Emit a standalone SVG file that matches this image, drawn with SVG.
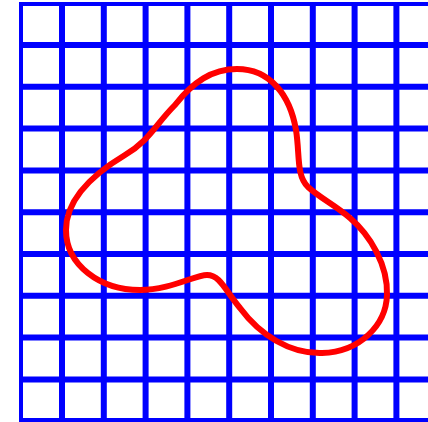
<svg xmlns="http://www.w3.org/2000/svg" width="428" height="422" viewBox="0 0 428 422">
<style>
.g{stroke:#0000ff;stroke-width:6;fill:none}
.e{fill:#0000ff}
.c{stroke:#ff0000;stroke-width:6;fill:none;stroke-linejoin:round}
</style>
<rect width="428" height="422" fill="#ffffff"/>
<g id="grid">
<rect class="e" x="19" y="2" width="409" height="4"/>
<rect class="e" x="19" y="418" width="409" height="4"/>
<rect class="e" x="19" y="2" width="4" height="420"/>
<path class="g" d="M62 2V422M103.8 2V422M145.6 2V422M187.4 2V422M229.2 2V422M271 2V422M312.8 2V422M354.6 2V422M396.4 2V422"/>
<path class="g" d="M19 45H428M19 86.8H428M19 128.6H428M19 170.4H428M19 212.2H428M19 254H428M19 295.8H428M19 337.6H428M19 379.4H428"/>
</g>
<g id="curve">
<path class="c" d="M237 69 C270 69 290 95 296 130 C300 155 296 175 308 187 C320 198 335 205 350 218 C370 235 388 265 387 295 C386 325 360 352 322 353 C290 354 260 335 240 308 C225 290 220 275 207 275 C195 275 170 290 140 290 C100 290 66 265 66 230 C66 195 100 170 125 155 C150 140 155 125 175 105 C193 82 212 69 237 69 Z"/>
</g>
</svg>
